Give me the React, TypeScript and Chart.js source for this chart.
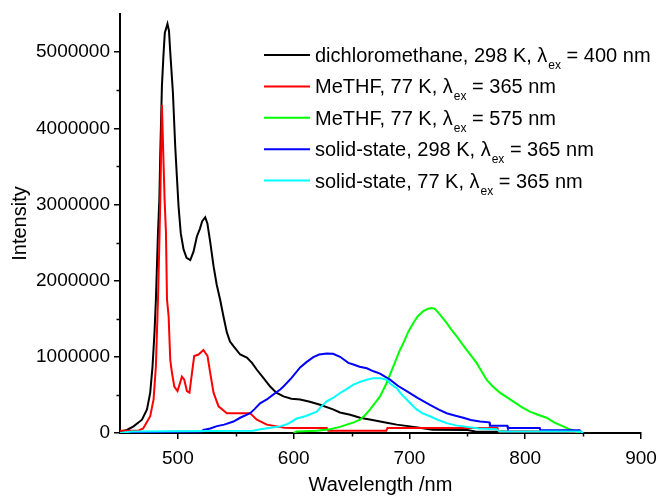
import React, { useEffect, useRef } from "react";
import { Chart, registerables } from "chart.js";

Chart.register(...registerables);

// ---- data (wavelength in nm, intensity in counts) ----
const blackX = [450,456,461.7,469,473.3,476.1,478.1,479.8,481,481.9,482.8,484,484.8,486.2,487.5,488.7,491,492.3,493.4,495.7,497.7,499,500.6,502.5,504.9,507.5,510.7,513.5,516.4,519,521,523.6,525.5,528,530.8,533.5,536.5,539.5,542.3,545,548,553.8,559.6,564,568.2,574,579.7,585,591.2,598,605.6,614,622.8,634,640,648.8,657.3,668,680.4,689,700.5,710,720,750,757,800,840,850];
const blackY = [20000,40000,87000,175000,310000,530000,875000,1320000,1750000,2190000,2630000,3070000,3680000,4550000,4950000,5250000,5370000,5280000,5000000,4470000,3760000,3400000,2970000,2620000,2410000,2300000,2270000,2380000,2580000,2680000,2780000,2830000,2750000,2500000,2190000,1950000,1750000,1520000,1320000,1200000,1140000,1030000,990000,920000,830000,720000,610000,530000,480000,450000,440000,410000,370000,310000,270000,240000,200000,170000,135000,110000,87000,65000,43000,40000,20000,15000,10000,0];

const redX = [450,466,470,476.1,479,481,482.8,484.2,484.8,486.2,488.5,489.7,490.6,492,493.4,494.9,496.9,499.7,503.5,505.5,507.8,510,512.9,514.1,517.8,522.1,525.6,527.9,530.8,535.1,542.3,562.4,568.2,576.8,585.5,592,599.8,628.6,630,680,681,776,777,838,840,845];
const redY = [30000,30000,60000,220000,440000,875000,1750000,2630000,3070000,4310000,3070000,2630000,1750000,1530000,960000,790000,610000,550000,740000,700000,550000,530000,875000,1010000,1030000,1090000,1010000,790000,530000,350000,260000,260000,175000,110000,87000,70000,66000,66000,30000,30000,66000,66000,20000,20000,0,0];

const greenX = [600,602.7,620,631.4,640,645.9,652,657.3,662,666,670,674.6,680.4,686.1,691.8,694.7,699,703.3,707,712,716,719.2,722,726,732.1,736,740.8,745,749.4,758,766.6,772,778.1,784,789.6,797,804,811,818.4,825,832.7,838,844.3,848];
const greenY = [0,20000,30000,50000,80000,110000,140000,175000,240000,310000,390000,480000,660000,875000,1090000,1180000,1330000,1445000,1530000,1600000,1630000,1640000,1630000,1560000,1445000,1360000,1270000,1180000,1090000,920000,700000,610000,530000,470000,415000,340000,280000,240000,200000,140000,87000,50000,20000,0];

const blueX = [455,460,520,522,528,533.7,540,548,553.8,562.4,566,571,576.8,582,588.4,591.2,598,605.6,611,617,622,628.6,634,640.1,647.2,651.6,657,663.2,669,674.6,683.2,690,697.6,707,717.7,725,732.1,739,746.5,753,760.9,769,769.5,784.5,785,812.6,813,847,849];
const blueY = [0,10000,20000,40000,60000,90000,110000,150000,200000,260000,310000,390000,440000,500000,570000,610000,720000,860000,930000,995000,1030000,1045000,1040000,1000000,920000,900000,870000,850000,810000,780000,700000,620000,550000,460000,370000,310000,260000,230000,200000,170000,150000,140000,96000,96000,66000,66000,35000,35000,0];

const cyanX = [450,460,565,570,580,588.4,595,602.7,610,620,624,628.6,634,640.1,645,651.6,657,663.2,668.8,674.6,680.4,684,689,693,697.6,702,706.2,711,717.7,725,732.1,740,746.5,760,775.3,778,848,850];
const cyanY = [0,20000,30000,45000,70000,87000,120000,190000,220000,280000,350000,415000,460000,525000,570000,635000,670000,700000,720000,720000,700000,640000,590000,510000,440000,370000,310000,260000,220000,170000,130000,100000,87000,60000,50000,20000,20000,0];

const seriesX = [blackX, redX, greenX, blueX, cyanX];
const seriesY = [blackY, redY, greenY, blueY, cyanY];
const seriesColors = ["#000000", "#ff0000", "#00ff00", "#0000ff", "#00ffff"];
const labelPrefix = [
  "dichloromethane, 298 K, ",
  "MeTHF, 77 K, ",
  "MeTHF, 77 K, ",
  "solid-state, 298 K, ",
  "solid-state, 77 K, ",
];
const labelSymbol = "λ";
const labelSub = "ex";
const labelSuffix = [" = 400 nm", " = 365 nm", " = 575 nm", " = 365 nm", " = 365 nm"];

const xTickValues = [500, 600, 700, 800, 900];
const yTickValues = [0, 1000000, 2000000, 3000000, 4000000, 5000000];
const xMinorTicks = [550, 650, 750, 850];
const yMinorTicks = [500000, 1500000, 2500000, 3500000, 4500000];

const FONT = '"Liberation Sans", Arial, sans-serif';

const minorTicksPlugin = {
  id: "minorTicks",
  afterDraw(chart: any) {
    const ctx = chart.ctx;
    const xs = chart.scales.x;
    const ys = chart.scales.y;
    const { left, bottom } = chart.chartArea;
    ctx.save();
    ctx.strokeStyle = "#000";
    ctx.lineWidth = 1.5;
    ctx.beginPath();
    xMinorTicks.forEach((v) => {
      const px = Math.round(xs.getPixelForValue(v)) + 0.5;
      ctx.moveTo(px, bottom);
      ctx.lineTo(px, bottom + 3.5);
    });
    yMinorTicks.forEach((v) => {
      const py = Math.round(ys.getPixelForValue(v)) + 0.5;
      ctx.moveTo(left, py);
      ctx.lineTo(left - 3.5, py);
    });
    ctx.stroke();
    ctx.restore();
  },
};

const legendPlugin = {
  id: "customLegend",
  afterDraw(chart: any) {
    const ctx = chart.ctx;
    const { left, top } = chart.chartArea;
    ctx.save();
    labelPrefix.forEach((pre, i) => {
      const y = top + 41 + i * 31.4;
      ctx.strokeStyle = seriesColors[i];
      ctx.lineWidth = 2;
      ctx.beginPath();
      ctx.moveTo(left + 144, y);
      ctx.lineTo(left + 190, y);
      ctx.stroke();
      ctx.fillStyle = "#000";
      ctx.textAlign = "left";
      ctx.textBaseline = "alphabetic";
      const base = y + 7;
      let x = left + 195;
      ctx.font = `20px ${FONT}`;
      ctx.fillText(pre, x, base);
      x += ctx.measureText(pre).width;
      ctx.fillText(labelSymbol, x, base);
      x += ctx.measureText(labelSymbol).width + 1;
      ctx.font = `12px ${FONT}`;
      ctx.fillText(labelSub, x, base + 7);
      x += ctx.measureText(labelSub).width;
      ctx.font = `20px ${FONT}`;
      ctx.fillText(labelSuffix[i], x, base);
    });
    ctx.restore();
  },
};

export default function App() {
  const canvasRef = useRef<HTMLCanvasElement | null>(null);

  useEffect(() => {
    if (!canvasRef.current) return;
    const datasets = seriesX.map((xs, i) => ({
      label: labelPrefix[i] + labelSymbol + labelSub + labelSuffix[i],
      data: xs.map((x, j) => ({ x, y: seriesY[i][j] })),
      borderColor: seriesColors[i],
      backgroundColor: seriesColors[i],
      borderWidth: 2,
      pointRadius: 0,
      tension: 0,
      fill: false,
      order: seriesX.length - i,
    }));

    const chart = new Chart(canvasRef.current, {
      type: "line",
      data: { datasets },
      options: {
        animation: false,
        responsive: false,
        maintainAspectRatio: false,
        layout: { padding: { left: 0, right: 17, top: 14, bottom: 0 } },
        plugins: {
          legend: { display: false },
          tooltip: { enabled: false },
        },
        scales: {
          x: {
            type: "linear",
            min: 450,
            max: 900,
            afterBuildTicks: (s: any) => {
              s.ticks = xTickValues.map((v) => ({ value: v }));
            },
            ticks: {
              color: "#000",
              font: { family: FONT, size: 19 },
              padding: 8,
              maxRotation: 0,
              autoSkip: false,
              callback: (v: any) => String(v),
            },
            grid: {
              drawOnChartArea: false,
              drawTicks: true,
              tickLength: 6,
              color: "#000",
              lineWidth: 1.5,
            },
            border: { display: true, color: "#000", width: 2 },
            title: {
              display: true,
              text: "Wavelength /nm",
              color: "#000",
              font: { family: FONT, size: 20 },
              padding: { top: 0, bottom: 0 },
            },
            afterFit: (s: any) => {
              s.height = 64;
              s.paddingLeft = 0;
              s.paddingRight = 0;
            },
          },
          y: {
            type: "linear",
            min: 0,
            max: 5500000,
            afterBuildTicks: (s: any) => {
              s.ticks = yTickValues.map((v) => ({ value: v }));
            },
            ticks: {
              color: "#000",
              font: { family: FONT, size: 19 },
              padding: 4,
              autoSkip: false,
              callback: (v: any) => String(v),
            },
            grid: {
              drawOnChartArea: false,
              drawTicks: true,
              tickLength: 6,
              color: "#000",
              lineWidth: 1.5,
            },
            border: { display: true, color: "#000", width: 2 },
            title: {
              display: true,
              text: "Intensity",
              color: "#000",
              font: { family: FONT, size: 20 },
              padding: { top: 8, bottom: 0 },
            },
            afterFit: (s: any) => {
              s.width = 120;
              s.paddingTop = 0;
              s.paddingBottom = 0;
            },
          },
        },
      },
      plugins: [minorTicksPlugin, legendPlugin],
    });
    return () => chart.destroy();
  }, []);

  return (
    <div style={{ position: "absolute", left: 0, top: 0, width: 658, height: 497, background: "#fff" }}>
      <canvas ref={canvasRef} width={658} height={497} style={{ width: 658, height: 497, display: "block" }} />
    </div>
  );
}
